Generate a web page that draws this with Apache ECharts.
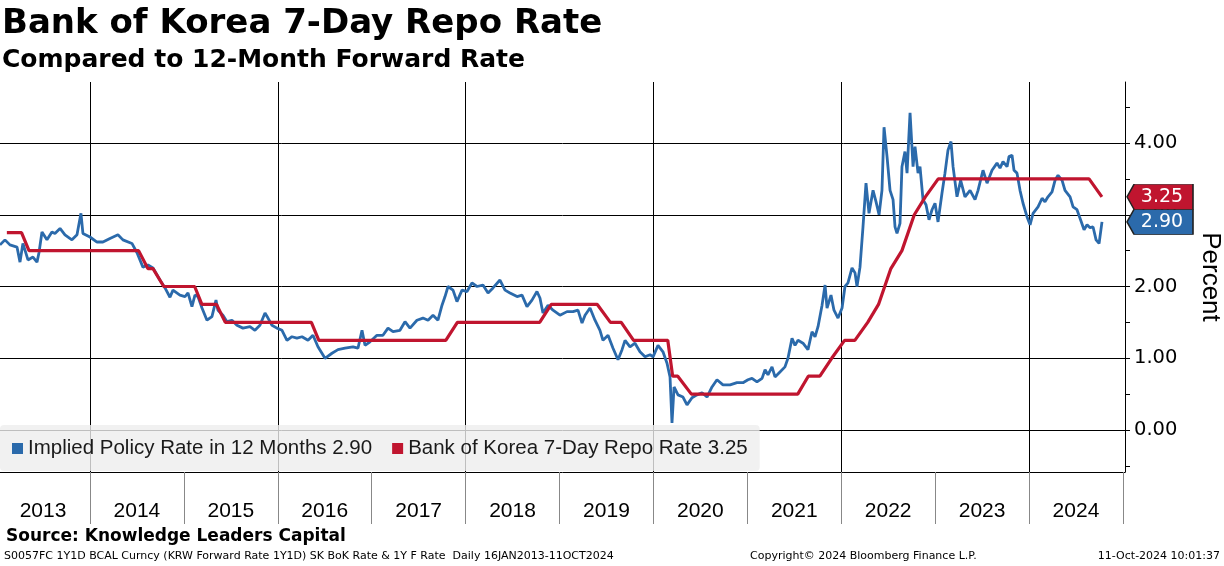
<!DOCTYPE html>
<html>
<head>
<meta charset="utf-8">
<script src="https://cdn.jsdelivr.net/npm/echarts@6/dist/echarts.min.js"></script>
<style>
  html, body { margin: 0; padding: 0; background: #fff; }
  #main { width: 1224px; height: 566px; }
</style>
</head>
<body>
<div id="main"></div>
<script>
// implied policy rate in 12 months, [decimal year, percent]
const impliedRate = [
  [2013.042, 2.58], [2013.095, 2.65], [2013.148, 2.58], [2013.223, 2.55], [2013.255, 2.34],
  [2013.286, 2.60], [2013.340, 2.37], [2013.393, 2.41], [2013.436, 2.34], [2013.457, 2.47],
  [2013.489, 2.76], [2013.542, 2.65], [2013.595, 2.76], [2013.627, 2.74], [2013.681, 2.81],
  [2013.734, 2.72], [2013.808, 2.65], [2013.862, 2.72], [2013.904, 3.02], [2013.925, 2.74],
  [2014.000, 2.69], [2014.075, 2.62], [2014.138, 2.62], [2014.213, 2.67], [2014.298, 2.72],
  [2014.351, 2.65], [2014.447, 2.60], [2014.501, 2.47], [2014.564, 2.27], [2014.618, 2.30],
  [2014.671, 2.26], [2014.745, 2.09], [2014.799, 1.98], [2014.852, 1.85], [2014.884, 1.95],
  [2014.958, 1.88], [2015.012, 1.86], [2015.044, 1.91], [2015.086, 1.72], [2015.118, 1.88],
  [2015.150, 1.86], [2015.193, 1.70], [2015.246, 1.53], [2015.299, 1.58], [2015.342, 1.81],
  [2015.363, 1.67], [2015.416, 1.60], [2015.459, 1.51], [2015.512, 1.53], [2015.565, 1.46],
  [2015.629, 1.42], [2015.704, 1.44], [2015.757, 1.39], [2015.810, 1.46], [2015.864, 1.63],
  [2015.896, 1.56], [2015.938, 1.46], [2015.991, 1.42], [2016.045, 1.39], [2016.098, 1.25],
  [2016.151, 1.30], [2016.204, 1.28], [2016.258, 1.30], [2016.322, 1.25], [2016.375, 1.32],
  [2016.428, 1.16], [2016.503, 1.00], [2016.577, 1.07], [2016.641, 1.12], [2016.716, 1.14],
  [2016.801, 1.16], [2016.854, 1.14], [2016.897, 1.39], [2016.929, 1.18], [2016.982, 1.23],
  [2017.056, 1.32], [2017.120, 1.32], [2017.174, 1.42], [2017.227, 1.37], [2017.301, 1.39],
  [2017.355, 1.51], [2017.408, 1.42], [2017.482, 1.53], [2017.546, 1.56], [2017.600, 1.53],
  [2017.653, 1.60], [2017.706, 1.53], [2017.749, 1.74], [2017.781, 1.86], [2017.813, 2.00],
  [2017.866, 1.95], [2017.908, 1.79], [2017.962, 1.95], [2018.015, 1.93], [2018.068, 2.05],
  [2018.121, 2.00], [2018.185, 2.02], [2018.239, 1.91], [2018.292, 1.98], [2018.366, 2.09],
  [2018.420, 1.95], [2018.473, 1.91], [2018.548, 1.86], [2018.601, 1.88], [2018.654, 1.72],
  [2018.707, 1.81], [2018.760, 1.93], [2018.792, 1.84], [2018.824, 1.63], [2018.878, 1.74],
  [2018.931, 1.67], [2019.005, 1.60], [2019.080, 1.65], [2019.144, 1.65], [2019.197, 1.67],
  [2019.240, 1.49], [2019.272, 1.60], [2019.325, 1.70], [2019.378, 1.53], [2019.431, 1.39],
  [2019.463, 1.25], [2019.517, 1.32], [2019.570, 1.14], [2019.623, 0.98], [2019.666, 1.12],
  [2019.698, 1.25], [2019.751, 1.16], [2019.804, 1.21], [2019.857, 1.09], [2019.911, 1.02],
  [2019.964, 1.05], [2019.996, 1.02], [2020.049, 1.18], [2020.102, 1.09], [2020.145, 0.93],
  [2020.177, 0.74], [2020.198, 0.10], [2020.220, 0.60], [2020.262, 0.49], [2020.315, 0.46],
  [2020.358, 0.35], [2020.411, 0.45], [2020.464, 0.49], [2020.518, 0.52], [2020.571, 0.46],
  [2020.624, 0.60], [2020.677, 0.70], [2020.741, 0.63], [2020.816, 0.63], [2020.890, 0.66],
  [2020.954, 0.66], [2021.007, 0.70], [2021.050, 0.72], [2021.103, 0.67], [2021.157, 0.72],
  [2021.189, 0.84], [2021.220, 0.77], [2021.263, 0.88], [2021.295, 0.74], [2021.348, 0.81],
  [2021.401, 0.88], [2021.433, 1.00], [2021.476, 1.28], [2021.508, 1.18], [2021.540, 1.25],
  [2021.593, 1.21], [2021.646, 1.12], [2021.689, 1.37], [2021.721, 1.30], [2021.753, 1.44],
  [2021.796, 1.74], [2021.828, 2.02], [2021.849, 1.70], [2021.891, 1.88], [2021.923, 1.67],
  [2021.966, 1.56], [2022.009, 1.70], [2022.040, 2.00], [2022.072, 2.05], [2022.115, 2.26],
  [2022.147, 2.19], [2022.168, 2.00], [2022.200, 2.27], [2022.232, 2.83], [2022.264, 3.44],
  [2022.296, 3.02], [2022.339, 3.34], [2022.371, 3.18], [2022.403, 3.00], [2022.434, 3.34],
  [2022.456, 4.22], [2022.488, 3.81], [2022.520, 3.34], [2022.552, 3.21], [2022.573, 2.83],
  [2022.594, 2.74], [2022.626, 2.88], [2022.647, 3.67], [2022.679, 3.88], [2022.701, 3.58],
  [2022.733, 4.42], [2022.765, 3.67], [2022.786, 3.95], [2022.818, 3.58], [2022.839, 3.67],
  [2022.871, 3.21], [2022.903, 3.14], [2022.935, 2.93], [2022.967, 3.07], [2022.999, 3.16],
  [2023.031, 2.90], [2023.073, 3.30], [2023.105, 3.58], [2023.137, 3.90], [2023.169, 4.02],
  [2023.191, 3.67], [2023.233, 3.25], [2023.272, 3.48], [2023.318, 3.25], [2023.372, 3.34],
  [2023.425, 3.21], [2023.457, 3.34], [2023.510, 3.62], [2023.553, 3.44], [2023.606, 3.62],
  [2023.659, 3.72], [2023.691, 3.65], [2023.723, 3.74], [2023.766, 3.67], [2023.787, 3.81],
  [2023.819, 3.83], [2023.840, 3.62], [2023.872, 3.58], [2023.904, 3.34], [2023.936, 3.16],
  [2023.979, 2.97], [2024.011, 2.86], [2024.043, 3.02], [2024.096, 3.11], [2024.139, 3.23],
  [2024.170, 3.18], [2024.202, 3.25], [2024.245, 3.32], [2024.277, 3.48], [2024.309, 3.55],
  [2024.352, 3.48], [2024.383, 3.34], [2024.437, 3.25], [2024.469, 3.11], [2024.511, 3.07],
  [2024.543, 2.95], [2024.586, 2.79], [2024.618, 2.86], [2024.650, 2.82], [2024.682, 2.83],
  [2024.714, 2.65], [2024.746, 2.60], [2024.777, 2.90]
];

// BoK 7-day repo rate, knees of the plotted line
const repoRate = [
  ['2013-02-12', 2.75], ['2013-04-10', 2.75], ['2013-05-09', 2.50], ['2014-07-09', 2.50],
  ['2014-08-14', 2.25], ['2014-09-03', 2.25], ['2014-10-15', 2.00], ['2015-02-12', 2.00],
  ['2015-03-12', 1.75], ['2015-05-08', 1.75], ['2015-06-11', 1.50], ['2016-05-11', 1.50],
  ['2016-06-09', 1.25], ['2017-10-16', 1.25], ['2017-11-30', 1.50], ['2018-10-16', 1.50],
  ['2018-11-30', 1.75], ['2019-05-28', 1.75], ['2019-07-18', 1.50], ['2019-08-29', 1.50],
  ['2019-10-16', 1.25], ['2020-02-26', 1.25], ['2020-03-16', 0.75], ['2020-04-05', 0.75],
  ['2020-05-28', 0.50], ['2021-07-16', 0.50], ['2021-08-26', 0.75], ['2021-10-10', 0.75],
  ['2021-11-25', 1.00], ['2022-01-14', 1.25], ['2022-02-23', 1.25], ['2022-04-14', 1.50],
  ['2022-05-26', 1.75], ['2022-07-13', 2.25], ['2022-08-25', 2.50], ['2022-10-12', 3.00],
  ['2022-11-24', 3.25], ['2023-01-13', 3.50], ['2024-08-22', 3.50], ['2024-10-11', 3.25]
];

const years = [2013, 2014, 2015, 2016, 2017, 2018, 2019, 2020, 2021, 2022, 2023, 2024];
const yTickValues = [-0.5, 0, 0.5, 1, 1.5, 2, 2.5, 3, 3.5, 4, 4.5];
const yLabelValues = [0, 1, 2, 3, 4];

const BLUE = '#2B6AAB';
const RED = '#C0152F';
const SANS = 'DejaVu Sans';
const NARROW = 'Liberation Sans';

// date string -> decimal year
function dateToYear(s) {
  const t = Date.parse(s);
  const y = new Date(t).getUTCFullYear();
  const a = Date.UTC(y, 0, 1), b = Date.UTC(y + 1, 0, 1);
  return y + (t - a) / (b - a);
}

const redPoints = repoRate.map(d => [dateToYear(d[0]), d[1]]);
const blueLast = impliedRate[impliedRate.length - 1][1];
const redLast = repoRate[repoRate.length - 1][1];

const xMin = 2013.042, xMax = 2025.022;
const yMin = -0.585, yMax = 4.85;

const yearBounds = years.concat([2025]);
const evenYearBounds = yearBounds.filter(y => y % 2 === 0);
const yearMids = years.map(y => y + 0.5);

const tagPath = 'path://M0,12.5 L7,0 L66,0 L66,25 L7,25 Z';
function endTag(value, color) {
  return {
    symbol: tagPath,
    symbolSize: [66, 25],
    symbolOffset: [35, 0],
    itemStyle: { color: color, borderColor: '#222', borderWidth: 1 },
    label: {
      show: true, position: 'inside', offset: [2, 0],
      color: '#fff', fontFamily: SANS, fontSize: 19,
      formatter: () => value.toFixed(2)
    },
    data: [{ coord: [xMax, value], value: value }]
  };
}

const chart = echarts.init(document.getElementById('main'), null, { renderer: 'canvas' });

chart.setOption({
  animation: false,
  backgroundColor: '#fff',
  grid: { left: 0, top: 82, width: 1125, height: 390, containLabel: false, outerBoundsMode: 'none' },
  legend: {
    left: 0, top: 425,
    padding: [13, 12, 12, 12],
    itemGap: 20, itemWidth: 11, itemHeight: 11,
    icon: 'rect',
    backgroundColor: 'rgba(238,238,238,0.8)',
    borderRadius: 4,
    textStyle: { fontFamily: NARROW, fontSize: 20.5, color: '#1a1a1a' },
    formatter: name => name + ' ' + (name.startsWith('Implied') ? blueLast : redLast).toFixed(2),
    data: ['Implied Policy Rate in 12 Months', 'Bank of Korea 7-Day Repo Rate']
  },
  xAxis: [
    {
      type: 'value', min: xMin, max: xMax, position: 'bottom',
      axisLine: { show: true, onZero: false, lineStyle: { color: '#000', width: 1 } },
      axisTick: { show: false, customValues: evenYearBounds },
      axisLabel: { show: false },
      splitLine: { show: true, lineStyle: { color: '#000', width: 1 } }
    },
    {
      type: 'value', min: xMin, max: xMax, position: 'bottom',
      axisLine: { show: false, onZero: false },
      axisTick: { show: true, length: 52, customValues: yearBounds, lineStyle: { color: '#888', width: 1 } },
      axisLabel: {
        show: true, customValues: yearMids, margin: 29,
        fontFamily: NARROW, fontSize: 21, color: '#000',
        formatter: v => String(Math.floor(v))
      },
      splitLine: { show: false }
    }
  ],
  yAxis: [
    {
      type: 'value', position: 'right', min: yMin, max: yMax,
      name: 'Percent', nameLocation: 'middle', nameRotate: -90, nameGap: 72,
      nameTextStyle: { fontFamily: NARROW, fontSize: 26, color: '#000' },
      axisLine: { show: true, lineStyle: { color: '#000', width: 1 } },
      axisTick: { show: true, length: 5, customValues: yTickValues, lineStyle: { color: '#000' } },
      axisLabel: {
        show: true, customValues: yLabelValues, margin: 9,
        fontFamily: SANS, fontSize: 19.5, color: '#000',
        formatter: v => v.toFixed(2)
      },
      splitLine: { show: false }
    },
    {
      type: 'value', position: 'right', min: yMin, max: yMax,
      axisLine: { show: false },
      axisTick: { show: false, customValues: yLabelValues },
      axisLabel: { show: false },
      splitLine: { show: true, lineStyle: { color: '#000', width: 1 } }
    }
  ],
  series: [
    {
      name: 'Implied Policy Rate in 12 Months',
      type: 'line', xAxisIndex: 0, yAxisIndex: 0,
      data: impliedRate, showSymbol: false, clip: false,
      lineStyle: { color: BLUE, width: 2.8 }, itemStyle: { color: BLUE },
      markPoint: endTag(blueLast, BLUE)
    },
    {
      name: 'Bank of Korea 7-Day Repo Rate',
      type: 'line', xAxisIndex: 0, yAxisIndex: 0,
      data: redPoints, showSymbol: false, clip: false,
      lineStyle: { color: RED, width: 3.2 }, itemStyle: { color: RED },
      markPoint: endTag(redLast, RED)
    }
  ],
  graphic: [
    { type: 'text', x: 2, y: 24, style: { text: 'Bank of Korea 7-Day Repo Rate', fontFamily: SANS, fontWeight: 'bold', fontSize: 34, fill: '#000', verticalAlign: 'middle' } },
    { type: 'text', x: 2, y: 60, style: { text: 'Compared to 12-Month Forward Rate', fontFamily: SANS, fontWeight: 'bold', fontSize: 25, fill: '#000', verticalAlign: 'middle' } },
    { type: 'text', x: 6, y: 537, style: { text: 'Source: Knowledge Leaders Capital', fontFamily: SANS, fontWeight: 'bold', fontSize: 17, fill: '#000', verticalAlign: 'middle' } },
    { type: 'text', x: 4, y: 556, style: { text: 'S0057FC 1Y1D BCAL Curncy (KRW Forward Rate 1Y1D) SK BoK Rate & 1Y F Rate  Daily 16JAN2013-11OCT2024', fontFamily: SANS, fontSize: 11, fill: '#000', verticalAlign: 'middle' } },
    { type: 'text', x: 750, y: 556, style: { text: 'Copyright\u00A9 2024 Bloomberg Finance L.P.', fontFamily: SANS, fontSize: 11, fill: '#000', verticalAlign: 'middle' } },
    { type: 'text', x: 1220, y: 556, style: { text: '11-Oct-2024 10:01:37', fontFamily: SANS, fontSize: 11, fill: '#000', align: 'right', verticalAlign: 'middle' } }
  ]
});
</script>
</body>
</html>
